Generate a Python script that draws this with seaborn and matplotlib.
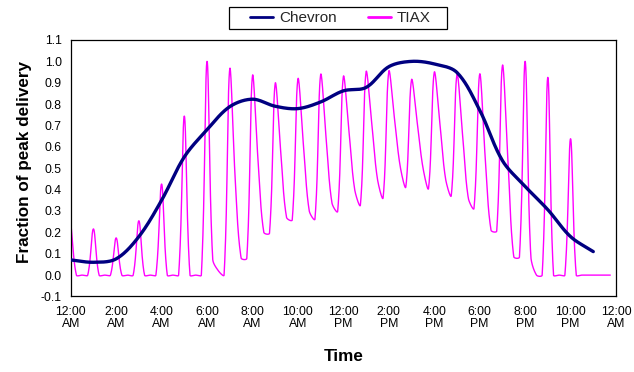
import numpy as np
import pandas as pd
import matplotlib
matplotlib.use("Agg")
import matplotlib.pyplot as plt
from matplotlib import font_manager
from matplotlib.patches import Rectangle
import seaborn as sns

# ---------------- data ----------------
chevron_hours = list(range(24))
chevron_values = [0.071, 0.060, 0.076, 0.180, 0.350, 0.553, 0.680, 0.788,
                  0.823, 0.790, 0.779, 0.810, 0.862, 0.878, 0.975, 1.000,
                  0.988, 0.948, 0.772, 0.536, 0.415, 0.306, 0.180, 0.110]

# TIAX: values every 15 minutes (h:00, h:15, h:30, h:45) for each hour
tiax_by_hour = [
    [0.250, 0.0, 0.0, 0.0],
    [0.216, 0.0, 0.0, 0.0],
    [0.174, 0.0, 0.0, 0.0],
    [0.254, 0.0, 0.0, 0.0],
    [0.426, 0.0, 0.0, 0.0],
    [0.744, 0.0, 0.0, 0.0],
    [1.000, 0.075, 0.020, 0.0],
    [0.964, 0.430, 0.080, 0.078],
    [0.932, 0.530, 0.200, 0.196],
    [0.896, 0.570, 0.270, 0.258],
    [0.917, 0.600, 0.300, 0.262],
    [0.937, 0.630, 0.337, 0.298],
    [0.928, 0.670, 0.400, 0.328],
    [0.950, 0.710, 0.450, 0.362],
    [0.953, 0.733, 0.510, 0.413],
    [0.913, 0.715, 0.505, 0.406],
    [0.948, 0.708, 0.450, 0.372],
    [0.937, 0.653, 0.360, 0.312],
    [0.940, 0.540, 0.210, 0.206],
    [0.980, 0.525, 0.086, 0.084],
    [1.000, 0.090, 0.0, 0.0],
    [0.925, 0.0, 0.0, 0.0],
    [0.638, 0.0, 0.0, 0.0],
    [0.0, 0.0, 0.0, 0.0],
]
tiax_minutes = [0, 15, 30, 45]

x_tick_hours = list(range(0, 25, 2))
x_tick_labels = ["12:00\nAM", "2:00\nAM", "4:00\nAM", "6:00\nAM", "8:00\nAM",
                 "10:00\nAM", "12:00\nPM", "2:00\nPM", "4:00\nPM", "6:00\nPM",
                 "8:00\nPM", "10:00\nPM", "12:00\nAM"]
y_ticks = [round(-0.1 + 0.1 * i, 1) for i in range(13)]

series_names = ["Chevron", "TIAX"]
series_colors = {"Chevron": "#000080", "TIAX": "#FF00FF"}

# ---------------- spreadsheet-style smoothed line (rendering only) ----------------
PX_PER_HOUR = 22.72
PX_PER_UNIT = 212.7


def smooth_line(x, y, n=30):
    """Bezier through the points; tangents shortened for short segments
    (measured in screen space), like a spreadsheet 'smoothed line'."""
    P = np.column_stack([np.asarray(x, float) * PX_PER_HOUR,
                         np.asarray(y, float) * PX_PER_UNIT])
    E = np.vstack([P[0], P, P[-1]])
    t = np.linspace(0, 1, n, endpoint=False)[:, None]
    out = []
    for i in range(len(P) - 1):
        p0, p1, p2, p3 = E[i], E[i + 1], E[i + 2], E[i + 3]
        d01 = np.hypot(*(p1 - p0))
        d12 = np.hypot(*(p2 - p1))
        d23 = np.hypot(*(p3 - p2))
        f1 = 2 * d12 / (d01 + d12) if d01 + d12 > 0 else 0.0
        f2 = 2 * d12 / (d12 + d23) if d12 + d23 > 0 else 0.0
        c1 = p1 + (p2 - p0) / 6.0 * f1
        c2 = p2 - (p3 - p1) / 6.0 * f2
        out.append((1 - t) ** 3 * p1 + 3 * (1 - t) ** 2 * t * c1
                   + 3 * (1 - t) * t ** 2 * c2 + t ** 3 * p2)
    out.append(P[-1:])
    S = np.vstack(out)
    return S[:, 0] / PX_PER_HOUR, S[:, 1] / PX_PER_UNIT


tiax_hours = [h + m / 60.0 for h in range(len(tiax_by_hour)) for m in tiax_minutes]
tiax_values = [v for row in tiax_by_hour for v in row]

cx, cy = smooth_line(chevron_hours, chevron_values)
tx, ty = smooth_line(tiax_hours, tiax_values)
df = pd.concat([
    pd.DataFrame({"hour": cx, "value": cy, "series": "Chevron"}),
    pd.DataFrame({"hour": tx, "value": ty, "series": "TIAX"}),
], ignore_index=True)

# ---------------- style ----------------
sns.set_theme(style="white")
names = {f.name for f in font_manager.fontManager.ttflist}
narrow = "Liberation Sans Narrow" in names
base = ["Liberation Sans Narrow", "Liberation Sans", "DejaVu Sans"] if narrow else ["Liberation Sans", "DejaVu Sans"]
scale = 1.0 if narrow else 0.88
plt.rcParams["font.family"] = base
plt.rcParams["axes.unicode_minus"] = False

fig = plt.figure(figsize=(6.34, 3.72), dpi=100)
ax = fig.add_axes([0.1115, 0.2030, 0.8601, 0.6895])

for name, lw in [("TIAX", 1.0), ("Chevron", 2.4)]:
    sub = df[df["series"] == name]
    sns.lineplot(data=sub, x="hour", y="value", sort=False, estimator=None,
                 color=series_colors[name], linewidth=lw, ax=ax, label=name,
                 zorder=3 if name == "Chevron" else 2)

ax.set_xlim(0, 24)
ax.set_ylim(-0.1, 1.1)
ax.set_xticks(x_tick_hours)
ax.set_xticklabels(x_tick_labels, linespacing=1.1)
ax.set_yticks(y_ticks)
ax.set_yticklabels([f"{v:.1f}" for v in y_ticks])
ax.tick_params(axis="both", direction="out", length=4, width=0.8, color="black",
               labelsize=10 * scale, labelcolor="black")
ax.tick_params(axis="x", pad=2.5)
ax.tick_params(axis="y", pad=2.5)
for s in ax.spines.values():
    s.set_visible(True)
    s.set_color("black")
    s.set_linewidth(0.9)
ax.grid(False)

ax.set_xlabel("Time", fontsize=14 * scale, fontweight="bold", color="black")
ax.xaxis.set_label_coords(0.5, -0.205)
ax.set_ylabel("Fraction of peak delivery", fontsize=14 * scale, fontweight="bold",
              color="black", va="center")
ax.yaxis.set_label_coords(-0.0856, 0.524)

handles, labels = ax.get_legend_handles_labels()
order = [labels.index(n) for n in series_names]
ax.get_legend().remove()
leg = fig.legend([handles[i] for i in order], [labels[i] for i in order],
                 loc="center", bbox_to_anchor=(0.537, 0.9516), ncol=2,
                 frameon=False, fontsize=12.5 * scale, handlelength=1.5,
                 handletextpad=0.4, columnspacing=2.0, borderpad=0.25)
for h in leg.get_lines():
    h.set_linewidth(2.0)
# legend frame (wider horizontal padding than matplotlib's symmetric borderpad)
fig.patches.append(Rectangle((229 / 634, 1 - 29 / 372), 218 / 634, 22 / 372,
                             transform=fig.transFigure, fill=False,
                             edgecolor="black", linewidth=0.9, zorder=5))

fig.savefig("out.png", dpi=100, facecolor="white")
